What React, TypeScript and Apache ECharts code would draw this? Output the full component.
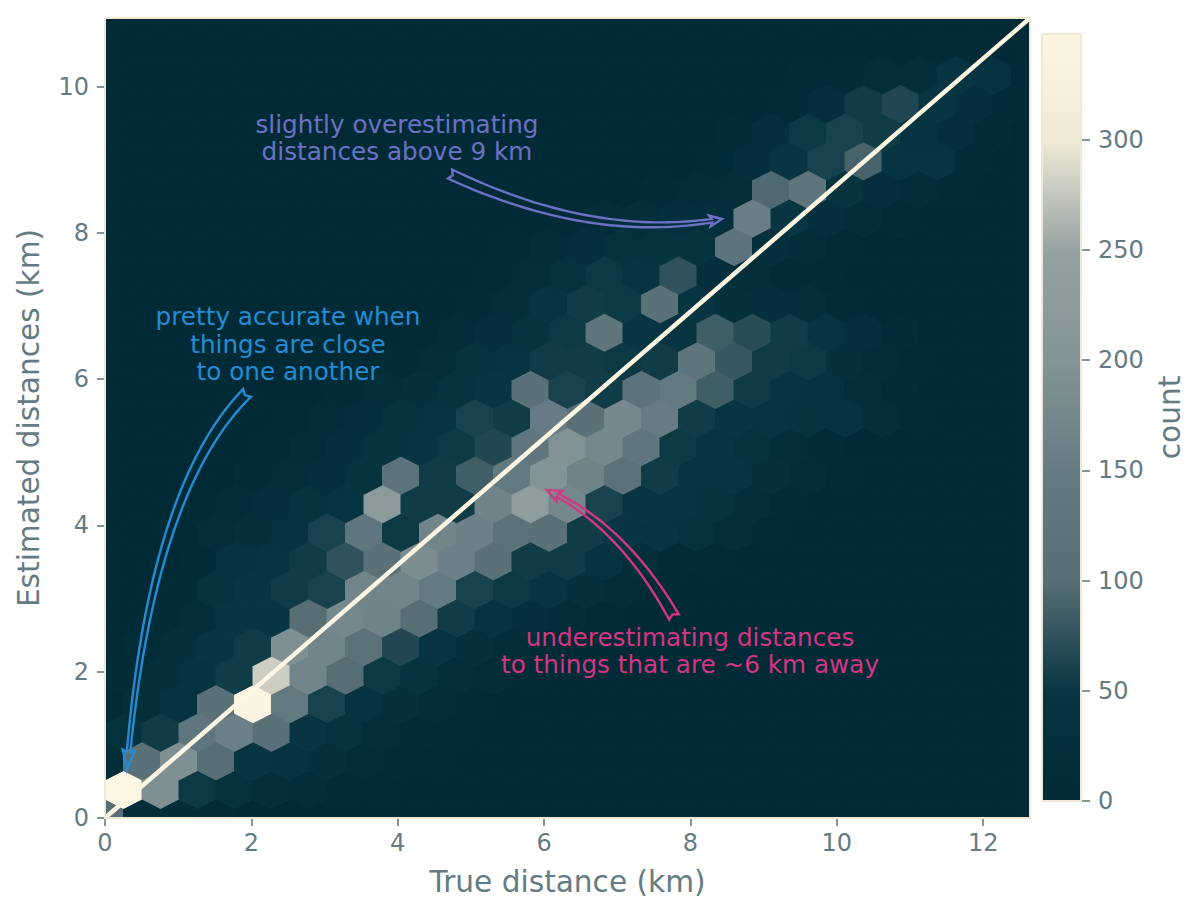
import React, { useEffect, useRef } from "react";
import * as echarts from "echarts";

const xTicks = [0, 2, 4, 6, 8, 10, 12];
const yTicks = [0, 2, 4, 6, 8, 10];
const cbTicks = [0, 50, 100, 150, 200, 250, 300];
const xMax = 12.64;
const yMax = 10.94;
const cbMax = 348;
const columnStep = xMax / 25;
const rowStep = yMax / 28;
const fitLine = [[0, 0], [xMax, yMax]];
const palette = ["#002b36", "#073642", "#586e75", "#657b83", "#839496", "#93a1a1", "#eee8d5", "#fdf6e3"];

// counts per hexagon, one list per row of the hexbin, bottom row first
const hexRows: number[][] = [
  [105, 12, 7, 4, 2, 2, 1, 1],
  [348, 190, 52, 30, 20, 12, 7, 4, 2],
  [9, 110, 190, 100, 50, 38, 25, 12, 7, 4],
  [30, 55, 130, 160, 110, 50, 35, 20, 9, 4],
  [4, 20, 38, 110, 340, 140, 60, 38, 25, 12, 5, 2],
  [7, 25, 38, 55, 280, 170, 100, 52, 35, 20, 12, 5],
  [2, 9, 25, 50, 55, 190, 170, 115, 65, 42, 25, 12, 5],
  [2, 7, 20, 50, 50, 100, 175, 165, 100, 55, 38, 24, 12, 5],
  [0, 2, 9, 35, 50, 55, 60, 170, 170, 145, 60, 52, 46, 25, 12, 5],
  [0, 2, 7, 38, 42, 55, 75, 110, 185, 160, 110, 55, 55, 38, 20, 9, 4],
  [0, 0, 4, 16, 25, 38, 60, 130, 52, 170, 160, 115, 110, 55, 50, 42, 30, 16, 5],
  [0, 0, 4, 12, 24, 35, 42, 225, 55, 55, 165, 232, 175, 60, 50, 42, 35, 20, 9],
  [0, 0, 0, 2, 7, 16, 24, 35, 120, 55, 85, 140, 200, 165, 115, 55, 46, 42, 25, 12, 4],
  [0, 0, 0, 2, 5, 12, 24, 35, 46, 52, 65, 130, 195, 175, 130, 52, 46, 30, 20, 9],
  [0, 0, 0, 0, 2, 5, 12, 24, 35, 46, 60, 55, 150, 110, 175, 150, 55, 50, 42, 35, 38, 16, 5],
  [0, 0, 0, 0, 0, 2, 7, 16, 25, 35, 50, 110, 60, 55, 120, 140, 85, 55, 42, 38, 20, 7],
  [0, 0, 0, 0, 0, 0, 0, 2, 7, 20, 35, 42, 55, 55, 52, 55, 125, 80, 55, 52, 25, 12, 4],
  [0, 0, 0, 0, 0, 0, 0, 0, 4, 12, 24, 35, 52, 125, 50, 46, 85, 70, 55, 42, 24, 9],
  [0, 0, 0, 0, 0, 0, 0, 0, 0, 2, 7, 16, 42, 55, 52, 110, 42, 25, 24, 16, 9],
  [0, 0, 0, 0, 0, 0, 0, 0, 0, 0, 4, 20, 30, 52, 42, 75, 24, 16, 9, 4],
  [0, 0, 0, 0, 0, 0, 0, 0, 0, 0, 0, 4, 12, 24, 30, 35, 35, 120, 24, 12, 5],
  [0, 0, 0, 0, 0, 0, 0, 0, 0, 0, 0, 0, 4, 12, 20, 24, 24, 155, 50, 24, 12, 5],
  [0, 0, 0, 0, 0, 0, 0, 0, 0, 0, 0, 0, 0, 0, 0, 7, 12, 20, 95, 125, 35, 24, 12, 5],
  [0, 0, 0, 0, 0, 0, 0, 0, 0, 0, 0, 0, 0, 0, 0, 0, 9, 24, 50, 60, 90, 42, 46, 9],
  [0, 0, 0, 0, 0, 0, 0, 0, 0, 0, 0, 0, 0, 0, 0, 0, 0, 7, 24, 52, 60, 55, 38, 24, 9],
  [0, 0, 0, 0, 0, 0, 0, 0, 0, 0, 0, 0, 0, 0, 0, 0, 0, 0, 5, 24, 55, 65, 50, 24, 7],
  [0, 0, 0, 0, 0, 0, 0, 0, 0, 0, 0, 0, 0, 0, 0, 0, 0, 0, 0, 5, 9, 16, 20, 46, 38, 5],
  [0, 0, 0, 0, 0, 0, 0, 0, 0, 0, 0, 0, 0, 0, 0, 0, 0, 0, 0, 0, 0, 0, 5, 4, 2],
  [],
];

const annotationBlue = ["pretty accurate when", "things are close", "to one another"];
const annotationViolet = ["slightly overestimating", "distances above 9 km"];
const annotationPink = ["underestimating distances", "to things that are ~6 km away"];

const GRID = { left: 105, top: 18, width: 925, height: 800 };
const CB = { left: 1042, top: 34, width: 39, height: 767 };
const FONT = "DejaVu Sans";
const TEXT = "#657b83";
const EDGE = "#eee8d5";

function colorOf(v: number) {
  return echarts.color.lerp(Math.min(v / cbMax, 1), palette) as string;
}

type P = [number, number];
// tapered curved arrow with notched tail, as an outline
function arrowPath(p0: P, c: P, p1: P, tailW: number, neckW: number, headW: number, headL: number) {
  const n = 40;
  const left: P[] = [];
  const right: P[] = [];
  const total = (() => {
    let l = 0, a = p0;
    for (let i = 1; i <= 100; i++) {
      const t = i / 100;
      const b: P = [
        (1 - t) ** 2 * p0[0] + 2 * t * (1 - t) * c[0] + t * t * p1[0],
        (1 - t) ** 2 * p0[1] + 2 * t * (1 - t) * c[1] + t * t * p1[1],
      ];
      l += Math.hypot(b[0] - a[0], b[1] - a[1]);
      a = b;
    }
    return l;
  })();
  const tEnd = 1 - headL / total;
  const at = (t: number) => {
    const x = (1 - t) ** 2 * p0[0] + 2 * t * (1 - t) * c[0] + t * t * p1[0];
    const y = (1 - t) ** 2 * p0[1] + 2 * t * (1 - t) * c[1] + t * t * p1[1];
    const dx = 2 * (1 - t) * (c[0] - p0[0]) + 2 * t * (p1[0] - c[0]);
    const dy = 2 * (1 - t) * (c[1] - p0[1]) + 2 * t * (p1[1] - c[1]);
    const len = Math.hypot(dx, dy);
    return { x, y, nx: -dy / len, ny: dx / len, tx: dx / len, ty: dy / len };
  };
  for (let i = 0; i <= n; i++) {
    const t = (tEnd * i) / n;
    const w = (tailW + (neckW - tailW) * (i / n)) / 2;
    const q = at(t);
    left.push([q.x + q.nx * w, q.y + q.ny * w]);
    right.push([q.x - q.nx * w, q.y - q.ny * w]);
  }
  const end = at(tEnd);
  const start = at(0);
  const wing = headW / 2;
  const pts: P[] = [
    ...left,
    [end.x + end.nx * wing - end.tx * 2, end.y + end.ny * wing - end.ty * 2],
    p1,
    [end.x - end.nx * wing - end.tx * 2, end.y - end.ny * wing - end.ty * 2],
    ...right.reverse(),
    [start.x + start.tx * 3, start.y + start.ty * 3],
  ];
  return "M" + pts.map((p) => `${p[0].toFixed(2)} ${p[1].toFixed(2)}`).join("L") + "Z";
}

function registerArrows() {
  echarts.graphic.registerShape(
    "arrowBlue",
    echarts.graphic.extendPath(arrowPath([247, 393], [150, 490], [127, 770], 11, 3.5, 12, 13), {}) as any
  );
  echarts.graphic.registerShape(
    "arrowViolet",
    echarts.graphic.extendPath(arrowPath([450, 174], [594, 242], [722, 219], 10, 3.5, 11, 11), {}) as any
  );
  echarts.graphic.registerShape(
    "arrowPink",
    echarts.graphic.extendPath(arrowPath([674, 617], [622, 525], [547, 490], 11, 3.5, 12, 13), {}) as any
  );
}

export default function App() {
  const ref = useRef<HTMLDivElement>(null);
  useEffect(() => {
    registerArrows();
    const chart = echarts.init(ref.current!, undefined, { renderer: "svg" });
    const hexData: number[][] = [];
    for (let k = 0; k < hexRows.length; k++) {
      const row = hexRows[k];
      for (let i = 0; i < 26; i++) {
        hexData.push([(i + (k % 2 ? 0.5 : 0)) * columnStep, k * rowStep, row[i] ?? 0]);
      }
    }
    const text = (lines: string[], x: number, y: number, fill: string) => ({
      type: "text",
      x,
      y,
      z: 50,
      style: {
        text: lines.join("\n"),
        fill,
        font: `24.7px "${FONT}"`,
        align: "center",
        verticalAlign: "middle",
        lineHeight: 27.4,
      },
    });
    const arrow = (type: string, stroke: string) => ({
      type,
      x: 0,
      y: 0,
      z: 50,
      style: { fill: "none", stroke, lineWidth: 2.4, lineJoin: "miter" },
    });
    const tick = (length: number, customValues: number[]) => ({
      show: true,
      length,
      lineStyle: { color: TEXT, width: 1.6 },
      customValues,
    });
    const title = { color: TEXT, fontSize: 29.6, fontFamily: FONT };
    const label = { color: TEXT, fontSize: 24, fontFamily: FONT };
    chart.setOption({
      animation: false,
      backgroundColor: "#ffffff",
      textStyle: { fontFamily: FONT },
      grid: [
        { ...GRID, containLabel: false },
        { ...CB, containLabel: false },
      ],
      xAxis: [
        {
          type: "value",
          gridIndex: 0,
          min: 0,
          max: xMax,
          interval: 2,
          name: "True distance (km)",
          nameLocation: "middle",
          nameGap: 49,
          nameTextStyle: title,
          splitLine: { show: false },
          axisLine: { show: false },
          axisTick: tick(8, xTicks),
          axisLabel: { ...label, margin: 13, customValues: xTicks },
        },
        { type: "category", gridIndex: 1, data: ["count"], show: false },
      ],
      yAxis: [
        {
          type: "value",
          gridIndex: 0,
          min: 0,
          max: yMax,
          interval: 2,
          name: "Estimated distances (km)",
          nameLocation: "middle",
          nameGap: 61,
          nameTextStyle: title,
          splitLine: { show: false },
          axisLine: { show: false },
          axisTick: tick(8, yTicks),
          axisLabel: { ...label, margin: 16, customValues: yTicks },
        },
        {
          type: "value",
          gridIndex: 1,
          position: "right",
          min: 0,
          max: cbMax,
          interval: 50,
          name: "count",
          nameLocation: "middle",
          nameGap: 74,
          nameRotate: 90,
          nameTextStyle: title,
          splitLine: { show: false },
          axisLine: { show: false },
          axisTick: tick(9, cbTicks),
          axisLabel: { ...label, margin: 17, customValues: cbTicks },
        },
      ],
      series: [
        {
          type: "custom",
          xAxisIndex: 0,
          yAxisIndex: 0,
          clip: true,
          silent: true,
          data: hexData,
          renderItem: (_p: any, api: any) => {
            const cx = api.value(0);
            const cy = api.value(1);
            const v = api.value(2);
            const sx = columnStep / 2;
            const sy = (2 * rowStep) / 3;
            const verts = [
              [cx + sx, cy - sy / 2],
              [cx + sx, cy + sy / 2],
              [cx, cy + sy],
              [cx - sx, cy + sy / 2],
              [cx - sx, cy - sy / 2],
              [cx, cy - sy],
            ].map((q) => api.coord(q));
            const col = colorOf(v);
            return { type: "polygon", shape: { points: verts }, style: { fill: col, stroke: col, lineWidth: 1 } };
          },
          z: 2,
        },
        {
          type: "line",
          xAxisIndex: 0,
          yAxisIndex: 0,
          data: fitLine,
          showSymbol: false,
          symbol: "none",
          lineStyle: { color: "#fdf6e3", width: 4.5 },
          z: 5,
        },
        {
          type: "bar",
          xAxisIndex: 1,
          yAxisIndex: 1,
          data: [cbMax],
          barWidth: "100%",
          silent: true,
          itemStyle: {
            color: new echarts.graphic.LinearGradient(
              0,
              1,
              0,
              0,
              palette.map((c, i) => ({ offset: i / (palette.length - 1), color: c }))
            ),
          },
        },
      ],
      graphic: [
        {
          type: "rect",
          z: 40,
          shape: { x: GRID.left, y: GRID.top, width: GRID.width, height: GRID.height },
          style: { fill: "none", stroke: EDGE, lineWidth: 2 },
        },
        {
          type: "rect",
          z: 40,
          shape: { x: CB.left, y: CB.top, width: CB.width, height: CB.height },
          style: { fill: "none", stroke: EDGE, lineWidth: 2 },
        },
        text(annotationBlue, 288, 344, "#268bd2"),
        text(annotationViolet, 397, 138, "#6c71c4"),
        text(annotationPink, 690, 651, "#d33682"),
        arrow("arrowBlue", "#268bd2"),
        arrow("arrowViolet", "#6c71c4"),
        arrow("arrowPink", "#d33682"),
      ],
    });
    return () => chart.dispose();
  }, []);
  return <div ref={ref} style={{ position: "fixed", left: 0, top: 0, width: 1200, height: 915 }} />;
}
